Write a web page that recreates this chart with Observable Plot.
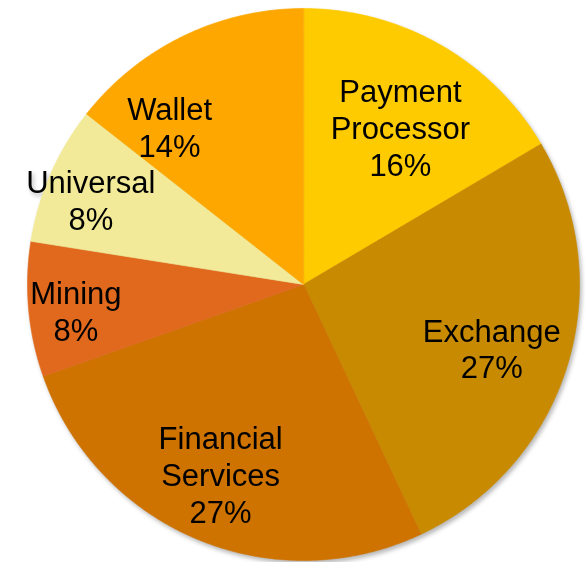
<!DOCTYPE html>
<html>
<head>
<meta charset="utf-8">
<script src="https://cdn.jsdelivr.net/npm/d3@7"></script>
<script src="https://cdn.jsdelivr.net/npm/@observablehq/plot@0.6"></script>
<style>
  html, body { margin: 0; padding: 0; background: #fff; }
  #chart svg { display: block; filter: drop-shadow(2px 3px 2px rgba(0,0,0,0.28)); }
</style>
</head>
<body>
<div id="chart"></div>
<script>
// ---- data ----
const categories = ["Payment Processor", "Exchange", "Financial Services", "Mining", "Universal", "Wallet"];
const shares = [16.5, 26.5, 26.6, 7.9, 8.1, 14.4];          // share of the pie
const percentLabels = ["16%", "27%", "27%", "8%", "8%", "14%"]; // printed labels
const nameLabels = ["Payment\nProcessor", "Exchange", "Financial\nServices", "Mining", "Universal", "Wallet"];
const colors = ["#FDCB00", "#C88A00", "#CE7200", "#E0691E", "#F2EA98", "#FEA700"];

// ---- layout (label placement in polar terms: radius fraction, angle in degrees clockwise from north) ----
const labelRadius = [0.67, 0.72, 0.75, 0.83, 0.83, 0.75];
const labelAngle  = [31.6, 108.7, 203.6, 263.5, 291.8, 319.7];

// build slice polygons from cumulative shares
const total = d3.sum(shares);
const slices = [];
let acc = 0;
categories.forEach((c, i) => {
  const a0 = acc / total * 2 * Math.PI;
  acc += shares[i];
  const a1 = acc / total * 2 * Math.PI;
  slices.push({cat: c, x: 0, y: 0});
  const n = Math.max(2, Math.ceil((a1 - a0) / (Math.PI / 360)));
  for (let k = 0; k <= n; k++) {
    const a = a0 + (a1 - a0) * k / n;
    slices.push({cat: c, x: Math.sin(a), y: Math.cos(a)});
  }
});

const labels = categories.map((c, i) => {
  const a = labelAngle[i] * Math.PI / 180;
  return {
    cat: c,
    text: nameLabels[i] + "\n" + percentLabels[i],
    x: labelRadius[i] * Math.sin(a),
    y: labelRadius[i] * Math.cos(a)
  };
});

const chart = Plot.plot({
  width: 585,
  height: 562,
  marginLeft: 27,
  marginRight: 6,
  marginTop: 8,
  marginBottom: 2,
  x: {domain: [-1, 1], axis: null},
  y: {domain: [-1, 1], axis: null},
  color: {domain: categories, range: colors},
  style: {fontFamily: "'Liberation Sans', Arial, sans-serif", background: "transparent"},
  marks: [
    Plot.line(slices, {x: "x", y: "y", z: "cat", fill: "cat", stroke: "cat", strokeWidth: 0.6, curve: "linear-closed"}),
    Plot.text(labels, {x: "x", y: "y", text: "text", fontSize: 31, lineHeight: 1.19, fill: "#000", textAnchor: "middle"})
  ]
});
document.getElementById("chart").appendChild(chart);
</script>
</body>
</html>
